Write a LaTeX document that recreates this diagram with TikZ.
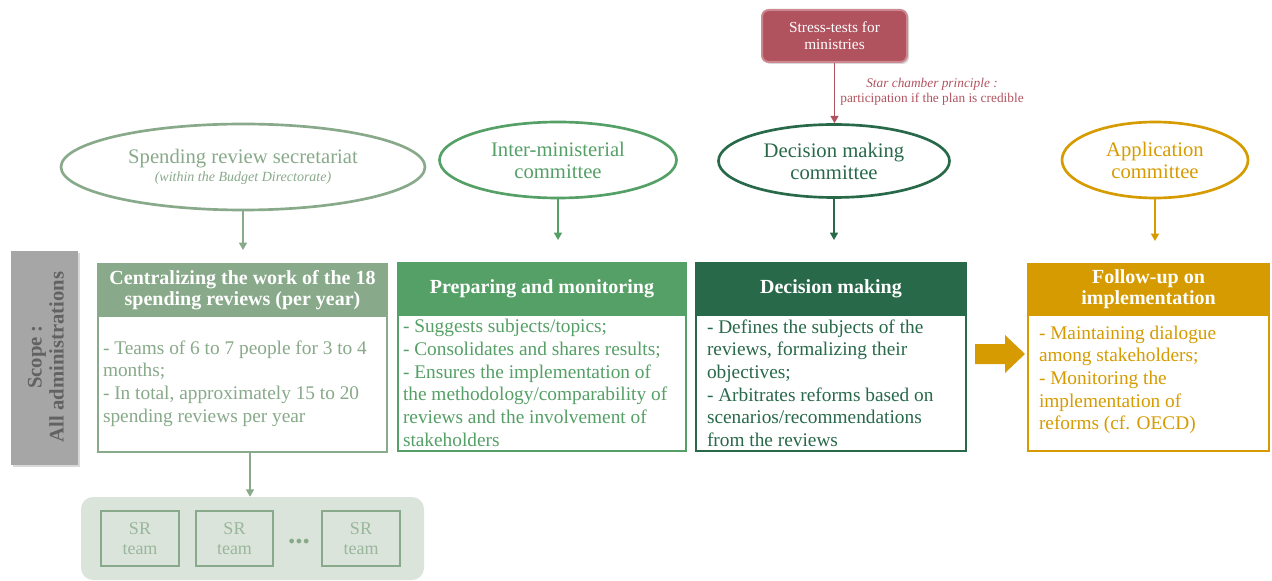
\documentclass[tikz,border=0pt]{standalone}
\usepackage{fontspec}
\setmainfont{Liberation Serif}
\usetikzlibrary{arrows.meta,shapes.geometric,shadows}
\definecolor{sage}{HTML}{88A98A}
\definecolor{midg}{HTML}{55A066}
\definecolor{darkg}{HTML}{28694A}
\definecolor{gold}{HTML}{D59B00}
\definecolor{rose}{HTML}{B0535E}
\definecolor{roseb}{HTML}{CD8890}
\definecolor{scopeg}{HTML}{A6A6A6}
\definecolor{scopet}{HTML}{626262}
\definecolor{pale}{HTML}{DAE4DA}
\newcommand\PX{0.75pt}
\tikzset{
  committee/.style={ellipse, draw=#1, text=#1, line width=2pt, inner sep=0pt, align=center,
    font=\fontsize{15.5}{16.5}\selectfont},
  head/.style={rectangle, fill=#1, draw=#1, line width=1.5pt, text=white, align=center, inner sep=0pt,
    font=\bfseries\fontsize{15}{15.75}\selectfont},
  body/.style={rectangle, draw=#1, line width=1.9pt, inner sep=0pt, fill=white},
  btext/.style={text=#1, align=left, anchor=west, inner sep=0pt, font=\fontsize{14.5}{17}\selectfont},
  arr/.style={draw=#1, line width=1.1pt, -{Triangle[length=5.5pt,width=6pt]}},
  srteam/.style={rectangle, draw=sage, line width=1.9pt, minimum width={78*\PX}, minimum height={55*\PX},
    align=center, text=sage!85, inner sep=0pt, font=\fontsize{13.5}{15.5}\selectfont},
}
\begin{document}
\begin{tikzpicture}[x=0.75pt,y=-0.75pt]
\useasboundingbox (0,0) rectangle (1272,581);

% stress test box
\node[rectangle, rounded corners=5pt, fill=rose, draw=roseb, line width=1.5pt,
  minimum width={145*\PX}, minimum height={52*\PX}, text=white, align=center, inner sep=0pt,
  font=\fontsize{11.5}{12.75}\selectfont,
  drop shadow={shadow xshift=1.5pt, shadow yshift=-1.5pt, opacity=0.3}]
  (stress) at (834.5,36) {Stress-tests for\\ministries};
\node[text=rose, align=center, inner sep=0pt, font=\fontsize{10}{11.25}\selectfont]
  (star) at (932,91.5) {\textit{Star chamber principle :}\\participation if the plan is credible};

% committees
\node[committee=sage, minimum width={364*\PX}, minimum height={86*\PX}] (e1) at (243,167)
  {Spending review secretariat\\[-3pt]{\itshape\fontsize{10.5}{12}\selectfont (within the Budget Directorate)}};
\node[committee=midg, minimum width={237*\PX}, minimum height={76*\PX}] (e2) at (558,160)
  {Inter-ministerial\\committee};
\node[committee=darkg, minimum width={231*\PX}, minimum height={73*\PX}] (e3) at (834,161)
  {Decision making\\committee};
\node[committee=gold, minimum width={186*\PX}, minimum height={76*\PX}] (e4) at (1155,160)
  {Application\\committee};

% scope bar
\node[rectangle, fill=scopeg, minimum width={67*\PX}, minimum height={214*\PX}, inner sep=0pt,
  drop shadow={shadow xshift=1.5pt, shadow yshift=-1.5pt, opacity=0.3}] (scope) at (44.5,358) {};
\node[rotate=90, text=scopet, align=center, inner sep=0pt, font=\bfseries\fontsize{15.5}{16.5}\selectfont]
  (scopetxt) at (46,357) {Scope :\\All administrations};

% boxes
\node[body=sage, minimum width={289*\PX}, minimum height={137*\PX}] (b1) at (242.5,383.5) {};
\node[head=sage, minimum width={289*\PX}, minimum height={52*\PX}] (h1) at (242.5,290)
  {Centralizing the work of the 18\\spending reviews (per year)};
\node[btext=sage] (t1) at ([xshift={6*\PX}]b1.west)
  {- Teams of 6 to 7 people for 3 to 4\\months;\\- In total, approximately 15 to 20\\spending reviews per year};

\node[body=midg, minimum width={288*\PX}, minimum height={136*\PX}] (b2) at (542,383) {};
\node[head=midg, minimum width={288*\PX}, minimum height={52*\PX}] (h2) at (542,289)
  {Preparing and monitoring};
\node[btext=midg] (t2) at ([xshift={6*\PX}]b2.west)
  {- Suggests subjects/topics;\\- Consolidates and shares results;\\- Ensures the implementation of\\the methodology/comparability of\\reviews and the involvement of\\stakeholders};

\node[body=darkg, minimum width={270*\PX}, minimum height={136*\PX}] (b3) at (831,383) {};
\node[head=darkg, minimum width={270*\PX}, minimum height={52*\PX}] (h3) at (831,289)
  {Decision making};
\node[btext=darkg] (t3) at ([xshift={12*\PX}]b3.west)
  {- Defines the subjects of the\\reviews, formalizing their\\objectives;\\- Arbitrates reforms based on\\scenarios/recommendations\\from the reviews};

\node[body=gold, minimum width={241*\PX}, minimum height={136*\PX}] (b4) at (1148.5,383) {};
\node[head=gold, minimum width={241*\PX}, minimum height={51*\PX}] (h4) at (1148.5,289.5)
  {Follow-up on\\implementation};
\node[btext=gold] (t4) at ([xshift={12*\PX},yshift={3*\PX}]b4.west)
  {- Maintaining dialogue\\among stakeholders;\\- Monitoring the\\implementation of\\reforms (cf. OECD)};

% block arrow
\fill[gold] (975,344) -- (1005,344) -- (1005,335) -- (1025,354) -- (1005,373) -- (1005,364) -- (975,364) -- cycle;

% SR teams container
\node[rectangle, rounded corners=9pt, fill=pale, minimum width={343*\PX}, minimum height={83*\PX}, inner sep=0pt]
  (cont) at (252.5,538.5) {};
\node[srteam] (sr1) at (140,538.5) {SR\\team};
\node[srteam, minimum width={77*\PX}] (sr2) at (234.5,538.5) {SR\\team};
\node[srteam] (sr3) at (361,538.5) {SR\\team};
\node[text=sage, inner sep=0pt, font=\bfseries\fontsize{22}{22}\selectfont] (dots) at (299,542) {...};

% connectors
\draw[arr=rose] (stress.south) -- (stress.south |- e3.north);
\draw[arr=sage, shorten >={13*\PX}] (e1.south) -- (e1.south |- h1.north);
\draw[arr=midg, shorten >={22*\PX}] (e2.south) -- (e2.south |- h2.north);
\draw[arr=darkg, shorten >={22*\PX}] (e3.south) -- (e3.south |- h3.north);
\draw[arr=gold, shorten >={22*\PX}] (e4.south) -- (e4.south |- h4.north);
\draw[arr=sage] ([xshift={7.5*\PX}]b1.south) -- ([xshift={7.5*\PX}]b1.south |- cont.north);
\end{tikzpicture}
\end{document}
